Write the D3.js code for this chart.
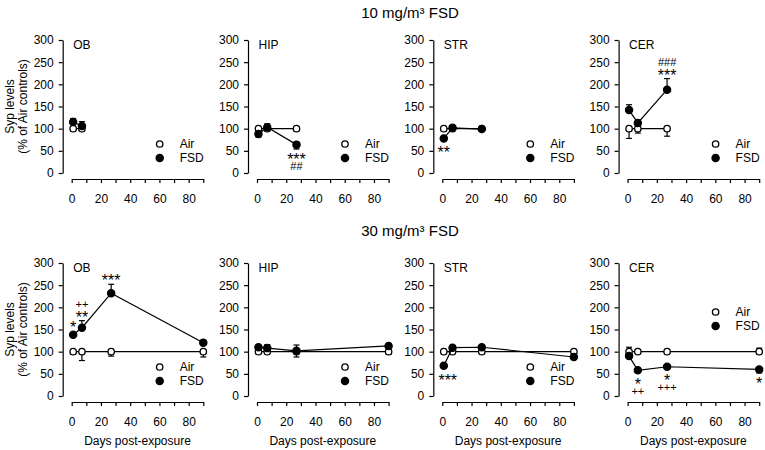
<!DOCTYPE html>
<html><head><meta charset="utf-8">
<script src="https://cdn.jsdelivr.net/npm/d3@7"></script>
<style>
body{margin:0;background:#fff}
text{font-family:Arial,"Liberation Sans",sans-serif;fill:#000}
</style>
</head><body>
<svg id="c" width="765" height="450"></svg>
<script>
// ---------- data ----------
const regions = ["OB", "HIP", "STR", "CER"];
const doseTitles = ["10 mg/m³ FSD", "30 mg/m³ FSD"];
const seriesNames = ["Air", "FSD"];
const xAxisTitle = "Days post-exposure";
const yAxisTitle = ["Syp levels", "(% of Air controls)"];
const xTickValues = [0, 10, 20, 30, 40, 50, 60, 70, 80, 90];
const xTickLabels = [0, 20, 40, 60, 80];
const yTickValues = [0, 50, 100, 150, 200, 250, 300];

// 10 mg/m3 FSD (OB only has two time points)
const days10 = [[1, 7], [1, 7, 27], [1, 7, 27], [1, 7, 27]];
const air10 = [[100, 100], [100, 100, 100], [100, 100, 100], [100, 100, 100]];
const airErr10 = [[-3, -4], [0, 0, 0], [0, 0, 0], [-22, -10, -17]];
const fsd10 = [[115, 106], [88, 103, 64], [78, 102, 99], [142, 113, 188]];
const fsdErr10 = [[8, 10], [-7, 8, -10], [0, 3, 3], [12, 0, 25]];

// 30 mg/m3 FSD
const days30 = [1, 7, 27, 90];
const air30 = [[100, 100, 100, 100], [100, 100, 100, 100], [100, 100, 100, 100], [100, 100, 100, 100]];
const airErr30 = [[-5, -20, -10, -12], [0, 0, -12, -5], [0, 0, 0, -8], [10, 3, 5, 8]];
const fsd30 = [[138, 154, 232, 120], [110, 108, 102, 113], [68, 109, 110, 88], [90, 58, 66, 60]];
const fsdErr30 = [[5, 16, 20, 6], [3, 8, 13, 3], [3, 3, 3, 6], [-5, -3, -3, -8]];

// significance marks: [panel, point index, label, slot (+ above, - below)]
const marks10 = [
  [1, 2, "***", -1], [1, 2, "##", -2],
  [2, 0, "**", -1],
  [3, 2, "***", 1], [3, 2, "###", 2]
];
const marks30 = [
  [0, 0, "*", 1],
  [0, 1, "**", 1], [0, 1, "++", 2],
  [0, 2, "***", 1],
  [2, 0, "***", -1],
  [3, 1, "*", -1], [3, 1, "++", -2],
  [3, 2, "*", -1], [3, 2, "+++", -2],
  [3, 3, "*", -1]
];

// ---------- layout ----------
const svg = d3.select("#c");
const rows = [{y0: 173, y300: 40, title: 17.5}, {y0: 396, y300: 263, title: 236}];
const axisX0 = 62.7, panelStep = 185.3;
const legendOffsets = [[29, 29, 29, 29], [29, 29, 29, 84]];
const markShift = [[0, 0, 0, 0], [0, 0, 4, 0]];

function styleAxis(sel) {
  sel.selectAll("path,line").attr("stroke", "#000").attr("stroke-width", 1.2);
  sel.selectAll("text").attr("font-size", 12).attr("fill", "#000")
    .attr("font-family", 'Arial, "Liberation Sans", sans-serif');
}

function drawPanel(row, col, days, air, airErr, fsd, fsdErr, marks) {
  const ax = axisX0 + col * panelStep;
  const g = rows[row];
  const x = d3.scaleLinear().domain([0, 90]).range([ax + 9, ax + 9 + 131.6]);
  const y = d3.scaleLinear().domain([0, 300]).range([g.y0, g.y300]);

  svg.append("g").attr("transform", `translate(${ax},0)`)
    .call(d3.axisLeft(y).tickValues(yTickValues).tickSize(4).tickSizeOuter(0).tickPadding(5))
    .call(styleAxis);
  svg.append("g").attr("transform", `translate(0,${g.y0 + 6})`)
    .call(d3.axisBottom(x).tickValues(xTickValues).tickSize(4).tickSizeOuter(0).tickPadding(11)
      .tickFormat(d => xTickLabels.includes(d) ? d : ""))
    .call(styleAxis);

  // region label
  svg.append("text").attr("x", ax + 10.5).attr("y", g.y300 + 9)
    .attr("font-size", 12).text(regions[col]);

  const line = d3.line().x(d => x(d[0])).y(d => y(d[1]));
  const series = [
    {vals: air, errs: airErr, fill: "#fff", r: 3.2},
    {vals: fsd, errs: fsdErr, fill: "#000", r: 3.6}
  ];
  series.forEach(s => {
    const pts = days.map((d, i) => [d, s.vals[i], s.errs[i]]);
    const eg = svg.append("g").attr("stroke", "#000").attr("stroke-width", 1.2);
    pts.filter(p => p[2] !== 0).forEach(p => {
      const ye = y(p[1] + p[2]);
      eg.append("line").attr("x1", x(p[0])).attr("x2", x(p[0])).attr("y1", y(p[1])).attr("y2", ye);
      eg.append("line").attr("x1", x(p[0]) - 3).attr("x2", x(p[0]) + 3).attr("y1", ye).attr("y2", ye);
    });
    svg.append("path").datum(pts).attr("d", line)
      .attr("fill", "none").attr("stroke", "#000").attr("stroke-width", 1.2);
    svg.append("g").selectAll("circle").data(pts).join("circle")
      .attr("cx", p => x(p[0])).attr("cy", p => y(p[1])).attr("r", s.r)
      .attr("fill", s.fill).attr("stroke", "#000").attr("stroke-width", 1.3);
  });

  // legend
  const ly = g.y0 - legendOffsets[row][col];
  seriesNames.forEach((n, i) => {
    const yy = ly + i * 14;
    svg.append("circle").attr("cx", ax + 97).attr("cy", yy).attr("r", i === 0 ? 3.2 : 3.6)
      .attr("fill", i === 0 ? "#fff" : "#000").attr("stroke", "#000").attr("stroke-width", 1.3);
    svg.append("text").attr("x", ax + 117).attr("y", yy + 4.3).attr("font-size", 12).text(n);
  });

  // significance marks
  marks.filter(m => m[0] === col).forEach(m => {
    const i = m[1], v = fsd[i], e = fsdErr[i];
    const px = x(days[i]) + markShift[row][col];
    let center;
    if (m[3] > 0) {
      const top = Math.min(y(v) - 3.6, y(v + Math.max(e, 0)));
      center = top - 7 - 10 * (m[3] - 1);
    } else {
      const bot = Math.max(y(v) + 3.6, y(v + Math.min(e, 0)));
      center = bot + 7 + 10 * (-m[3] - 1);
    }
    const star = m[2][0] === "*";
    const fs = star ? 16 : 11;
    svg.append("text").attr("x", px).attr("y", center + (star ? 0.57 : 0.36) * fs)
      .attr("text-anchor", "middle").attr("font-size", fs).attr("fill", "#000")
      .style("font-size", fs + "px").text(m[2]);
  });

  if (row === 1) {
    svg.append("text").attr("x", x(45)).attr("y", 444.5).attr("text-anchor", "middle")
      .attr("font-size", 12).text(xAxisTitle);
  }
  if (col === 0) {
    const cy = (g.y0 + g.y300) / 2;
    [10, 23].forEach((cx, k) => {
      svg.append("text").attr("transform", `translate(${cx},${cy}) rotate(-90)`)
        .attr("text-anchor", "middle").attr("dy", "0.35em").attr("font-size", 12).text(yAxisTitle[k]);
    });
  }
}

doseTitles.forEach((t, r) => {
  svg.append("text").attr("x", 410).attr("y", rows[r].title).attr("text-anchor", "middle")
    .attr("font-size", 15).text(t);
});

regions.forEach((reg, c) => {
  drawPanel(0, c, days10[c], air10[c], airErr10[c], fsd10[c], fsdErr10[c], marks10);
  drawPanel(1, c, days30, air30[c], airErr30[c], fsd30[c], fsdErr30[c], marks30);
});
</script>
</body></html>
